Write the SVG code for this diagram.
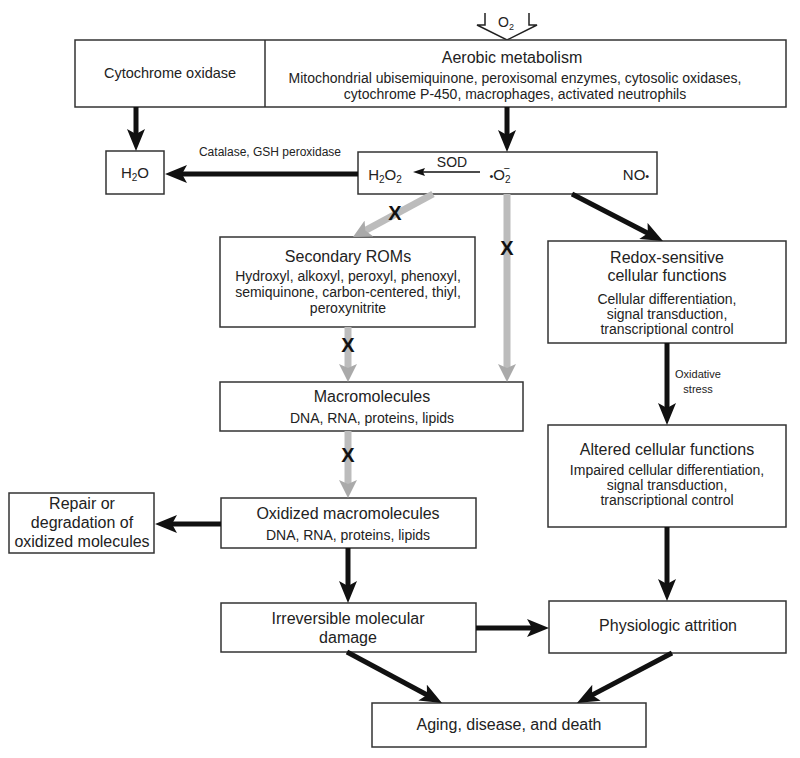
<svg xmlns="http://www.w3.org/2000/svg" width="800" height="758" viewBox="0 0 800 758">
<defs>
<style>
.box{fill:#fff;stroke:#333;stroke-width:1.5}
text{font-family:"Liberation Sans",Arial,sans-serif;fill:#222;text-anchor:middle}
.t{font-size:16px}
.d{font-size:14px}
.s{font-size:12px}
.xs{font-size:11px}
.x{font-size:20px;font-weight:bold;fill:#111}
.blk{stroke:#111;stroke-width:5;fill:none;marker-end:url(#ah)}
.gry{stroke:#bcbcbc;stroke-width:7;fill:none;marker-end:url(#gh)}
.thin{stroke:#111;stroke-width:1.5;fill:none;marker-end:url(#th)}
</style>
<marker id="ah" viewBox="0 0 22 18" refX="10" refY="9" markerWidth="22" markerHeight="18" markerUnits="userSpaceOnUse" orient="auto">
<path d="M0,0 L22,9 L0,18 L5,9 z" fill="#111"/>
</marker>
<marker id="gh" viewBox="0 0 18 18" refX="8" refY="9" markerWidth="18" markerHeight="18" markerUnits="userSpaceOnUse" orient="auto">
<path d="M0,0 L18,9 L0,18 L4,9 z" fill="#aaa"/>
</marker>
<marker id="th" viewBox="0 0 12 8" refX="9" refY="4" markerWidth="12" markerHeight="8" markerUnits="userSpaceOnUse" orient="auto">
<path d="M0,0 L12,4 L0,8 L2,4 z" fill="#111"/>
</marker>
</defs>
<rect width="800" height="758" fill="#fff"/>

<g id="o2-input">
<polyline points="485,13 485,25 477,25 507,40 537,25 529,25 529,13" fill="#fff" stroke="#222" stroke-width="1.5"/>
<text x="506" y="27" style="font-size:14px">O<tspan font-size="9" dy="3">2</tspan></text>
</g>

<g id="top-box">
<rect class="box" x="75" y="40" width="711" height="67"/>
<line x1="265" y1="40" x2="265" y2="107" stroke="#333" stroke-width="1.5"/>
</g>
<g id="cytochrome-oxidase">
<text class="d" x="170" y="78" style="font-size:14.5px">Cytochrome oxidase</text>
</g>
<g id="aerobic-metabolism">
<text class="t" x="512" y="63">Aerobic metabolism</text>
<text class="d" x="515" y="83">Mitochondrial ubisemiquinone, peroxisomal enzymes, cytosolic oxidases,</text>
<text class="d" x="515" y="99">cytochrome P-450, macrophages, activated neutrophils</text>
</g>

<g id="h2o">
<rect class="box" x="106" y="151" width="58" height="43"/>
<text x="135" y="178" style="font-size:15px">H<tspan font-size="10" dy="3">2</tspan><tspan dy="-3">O</tspan></text>
</g>

<g id="ros">
<rect class="box" x="358" y="152" width="299" height="42"/>
<text x="385" y="180" style="font-size:15px">H<tspan font-size="10" dy="3">2</tspan><tspan dy="-3">O</tspan><tspan font-size="10" dy="3">2</tspan></text>
<text x="452" y="167" style="font-size:14px">SOD</text>
<text x="500" y="180" style="font-size:15px"><tspan font-size="11">•</tspan>O<tspan font-size="10" dy="3">2</tspan><tspan font-size="11" dx="-7" dy="-11">−</tspan></text>
<text x="636" y="180" style="font-size:15px">NO<tspan font-size="11">•</tspan></text>
</g>

<g id="secondary-roms">
<rect class="box" x="220" y="237" width="255" height="90"/>
<text class="t" x="348" y="262">Secondary ROMs</text>
<text class="d" x="348" y="281">Hydroxyl, alkoxyl, peroxyl,  phenoxyl,</text>
<text class="d" x="348" y="297">semiquinone, carbon-centered, thiyl,</text>
<text class="d" x="348" y="313">peroxynitrite</text>
</g>

<g id="redox-sensitive">
<rect class="box" x="548" y="241" width="238" height="102"/>
<text class="t" x="667" y="263">Redox-sensitive</text>
<text class="t" x="667" y="281">cellular functions</text>
<text class="d" x="667" y="304">Cellular differentiation,</text>
<text class="d" x="667" y="319">signal transduction,</text>
<text class="d" x="667" y="334">transcriptional control</text>
</g>

<g id="macromolecules">
<rect class="box" x="220" y="382" width="303" height="49"/>
<text class="t" x="372" y="402">Macromolecules</text>
<text class="d" x="372" y="423">DNA, RNA, proteins, lipids</text>
</g>

<g id="altered-functions">
<rect class="box" x="548" y="425" width="238" height="102"/>
<text class="t" x="667" y="455">Altered cellular functions</text>
<text class="d" x="667" y="475">Impaired cellular differentiation,</text>
<text class="d" x="667" y="490">signal transduction,</text>
<text class="d" x="667" y="505">transcriptional control</text>
</g>

<g id="repair">
<rect class="box" x="9" y="493" width="145" height="60"/>
<text class="t" x="82" y="509">Repair or</text>
<text class="t" x="82" y="528">degradation of</text>
<text class="t" x="82" y="547">oxidized molecules</text>
</g>

<g id="oxidized-macromolecules">
<rect class="box" x="221" y="498" width="255" height="50"/>
<text class="t" x="348" y="519">Oxidized macromolecules</text>
<text class="d" x="348" y="540">DNA, RNA, proteins, lipids</text>
</g>

<g id="irreversible-damage">
<rect class="box" x="221" y="603" width="255" height="49"/>
<text class="t" x="348" y="624">Irreversible molecular</text>
<text class="t" x="348" y="643">damage</text>
</g>

<g id="physiologic-attrition">
<rect class="box" x="549" y="601" width="237" height="52"/>
<text class="t" x="668" y="631">Physiologic attrition</text>
</g>

<g id="aging">
<rect class="box" x="372" y="703" width="274" height="44"/>
<text class="t" x="509" y="730">Aging, disease, and death</text>
</g>

<g id="connectors">
<line class="blk" x1="136" y1="107" x2="136" y2="139"/>
<line class="blk" x1="507" y1="107" x2="507" y2="140"/>
<line class="blk" x1="358" y1="174" x2="177" y2="174"/>
<line class="thin" x1="480" y1="172" x2="416" y2="172"/>
<line class="blk" x1="572" y1="194" x2="652.3" y2="235.5"/>
<line class="blk" x1="667" y1="343" x2="667" y2="413"/>
<line class="blk" x1="667" y1="527" x2="667" y2="589"/>
<line class="blk" x1="221" y1="524" x2="167" y2="524"/>
<line class="blk" x1="348" y1="548" x2="348" y2="591"/>
<line class="blk" x1="476" y1="628" x2="537" y2="628"/>
<line class="blk" x1="347" y1="652" x2="431.4" y2="697.3"/>
<line class="blk" x1="672" y1="653" x2="587.6" y2="697.4"/>
<line class="gry" x1="433" y1="194" x2="361.8" y2="232.3"/>
<line class="gry" x1="507" y1="194" x2="507" y2="372"/>
<line class="gry" x1="348" y1="327" x2="348" y2="372"/>
<line class="gry" x1="348" y1="431" x2="348" y2="488"/>
<text class="s" x="270" y="156">Catalase, GSH peroxidase</text>
<text class="xs" x="698" y="378">Oxidative</text>
<text class="xs" x="698" y="393">stress</text>
<text class="x" x="395" y="220">X</text>
<text class="x" x="507" y="255">X</text>
<text class="x" x="348" y="352">X</text>
<text class="x" x="348" y="462">X</text>
</g>
</svg>
